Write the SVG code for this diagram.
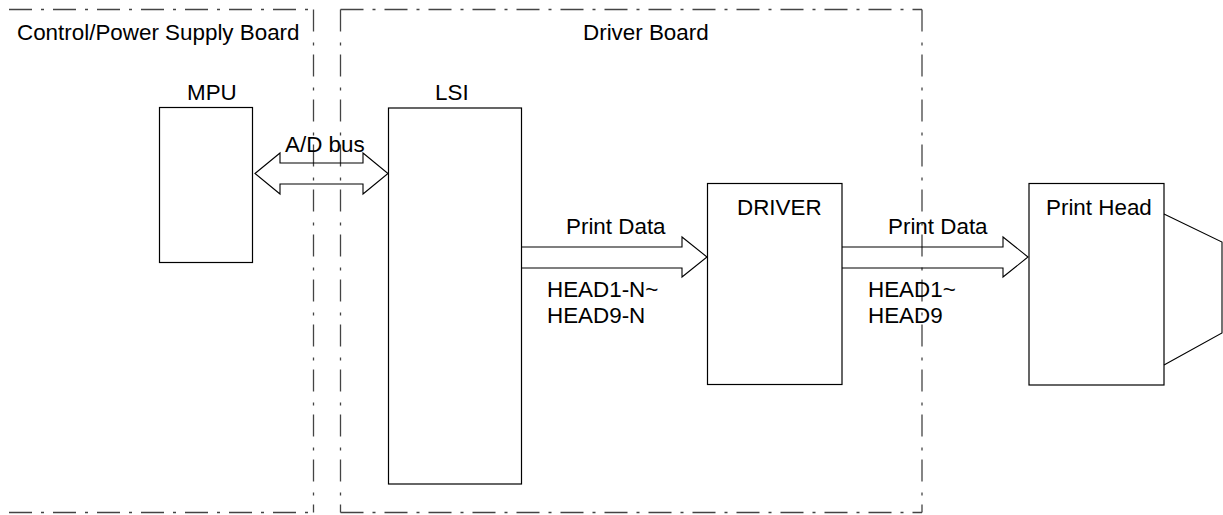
<svg xmlns="http://www.w3.org/2000/svg" width="1223" height="515" viewBox="0 0 1223 515">
<style>
.board{fill:none;stroke:#444;stroke-width:1.3}
.h{stroke-dasharray:23 9 3 9}
.v{stroke-dasharray:22 11 3 9}
.box{fill:#fff;stroke:#000;stroke-width:1.2}
.arrow{fill:none;stroke:#000;stroke-width:1.1;stroke-linejoin:miter}
text{font-family:"Liberation Sans",Arial,sans-serif;font-size:22.4px;fill:#000}
</style>
<g id="board-control">
<path class="board h" d="M9,9.5 H313.5"/>
<path class="board v" d="M313.5,9.5 V512.5"/>
<path class="board h" d="M9,512.5 H308"/>
<text x="17" y="40">Control/Power Supply Board</text>
</g>
<g id="board-driver">
<path class="board h" d="M340.5,9.5 H922"/>
<path class="board v" d="M340.5,9.5 V512.5"/>
<path class="board v" d="M922,9.5 V512.5"/>
<path class="board h" d="M340.5,512.5 H922"/>
<text x="583" y="40">Driver Board</text>
</g>
<g id="mpu">
<rect class="box" x="159.5" y="107.5" width="93" height="155"/>
<text x="187" y="100">MPU</text>
</g>
<g id="lsi">
<rect class="box" x="388.5" y="108" width="133" height="376"/>
<text x="435" y="100">LSI</text>
</g>
<g id="driver">
<rect class="box" x="707.5" y="183.5" width="134.5" height="201"/>
<text x="737" y="215">DRIVER</text>
</g>
<g id="print-head">
<rect class="box" x="1029" y="183.5" width="135" height="201.5"/>
<polyline class="arrow" points="1164,214 1222,242 1222,333 1164,365"/>
<text x="1046" y="215">Print Head</text>
</g>
<g id="connectors">
<polygon class="arrow" points="255,173.5 280,153 280,163 363,163 363,153 388,173.5 363,194 363,184 280,184 280,194"/>
<polyline class="arrow" points="522,247 682,247 682,237 707,257 682,277 682,268 522,268"/>
<polyline class="arrow" points="842,247 1003,247 1003,237 1028,257 1003,277 1003,268 842,268"/>
</g>
<g id="labels">
<text x="285" y="152">A/D bus</text>
<text x="566" y="234">Print Data</text>
<text x="547" y="297">HEAD1-N~</text>
<text x="547" y="323">HEAD9-N</text>
<text x="888" y="234">Print Data</text>
<text x="868" y="297">HEAD1~</text>
<text x="868" y="323">HEAD9</text>
</g>
</svg>
